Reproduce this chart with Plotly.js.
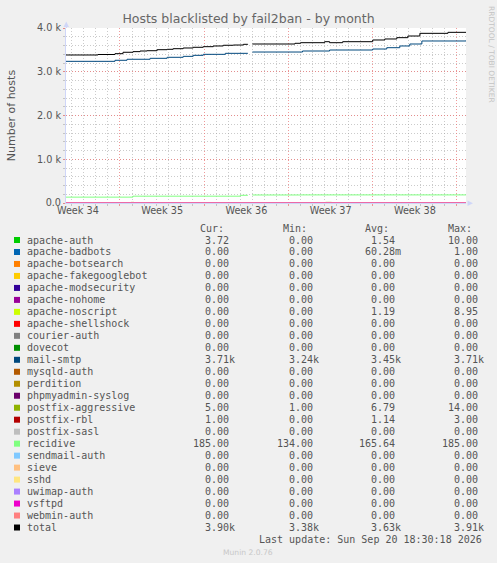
<!DOCTYPE html>
<html><head><meta charset="utf-8">
<script src="https://cdn.plot.ly/plotly-3.0.1.min.js"></script>
<style>html,body{margin:0;padding:0;background:#F0F0F0;}#chart{width:497px;height:563px;}</style>
</head><body><div id="chart"></div>
<script>
// ---------- data ----------
const seriesNames = ['apache-auth','apache-badbots','apache-botsearch','apache-fakegooglebot','apache-modsecurity','apache-nohome','apache-noscript','apache-shellshock','courier-auth','dovecot','mail-smtp','mysqld-auth','perdition','phpmyadmin-syslog','postfix-aggressive','postfix-rbl','postfix-sasl','recidive','sendmail-auth','sieve','sshd','uwimap-auth','vsftpd','webmin-auth','total'];
const curText = ['3.72','0.00','0.00','0.00','0.00','0.00','0.00','0.00','0.00','0.00','3.71k','0.00','0.00','0.00','5.00','1.00','0.00','185.00','0.00','0.00','0.00','0.00','0.00','0.00','3.90k'];
const minText = ['0.00','0.00','0.00','0.00','0.00','0.00','0.00','0.00','0.00','0.00','3.24k','0.00','0.00','0.00','1.00','0.00','0.00','134.00','0.00','0.00','0.00','0.00','0.00','0.00','3.38k'];
const avgText = ['1.54','60.28m','0.00','0.00','0.00','0.00','1.19','0.00','0.00','0.00','3.45k','0.00','0.00','0.00','6.79','1.14','0.00','165.64','0.00','0.00','0.00','0.00','0.00','0.00','3.63k'];
const maxText = ['10.00','1.00','0.00','0.00','0.00','0.00','8.95','0.00','0.00','0.00','3.71k','0.00','0.00','0.00','14.00','3.00','0.00','185.00','0.00','0.00','0.00','0.00','0.00','0.00','3.91k'];

const totalTimes = ['2026-08-18 12:20','2026-08-21 04:00','2026-08-22 14:00','2026-08-23 06:00','2026-08-24 02:00','2026-08-24 16:00','2026-08-25 06:00','2026-08-26 02:00','2026-08-26 22:00','2026-08-27 10:00','2026-08-28 06:00','2026-08-29 02:00','2026-08-29 22:00','2026-08-30 18:00','2026-08-31 14:00','2026-09-01 10:00','2026-09-02 06:00','2026-09-02 15:00','2026-09-02 16:00','2026-09-03 00:00','2026-09-06 13:00','2026-09-07 00:00','2026-09-09 00:00','2026-09-09 10:00','2026-09-10 12:00','2026-09-13 00:00','2026-09-14 00:00','2026-09-15 00:00','2026-09-15 22:00','2026-09-16 22:00','2026-09-19 06:00','2026-09-20 18:00'];
const totalValues = [3383,3394,3413,3445,3460,3474,3481,3504,3513,3527,3543,3559,3573,3589,3605,3611,3627,3630,null,3634,3650,3664,3687,3664,3687,3726,3749,3779,3817,3878,3901,3902];

const mailSmtpTimes = ['2026-08-18 12:20','2026-08-22 14:00','2026-08-23 14:00','2026-08-25 12:00','2026-08-26 22:00','2026-08-28 06:00','2026-08-29 02:00','2026-08-29 22:00','2026-08-31 18:00','2026-09-02 15:00','2026-09-02 16:00','2026-09-03 00:00','2026-09-07 04:00','2026-09-09 10:00','2026-09-13 00:00','2026-09-14 04:00','2026-09-15 06:00','2026-09-16 02:00','2026-09-17 02:00','2026-09-20 18:00'];
const mailSmtpValues = [3238,3262,3285,3307,3330,3352,3375,3398,3421,3421,null,3451,3474,3497,3520,3550,3589,3634,3703,3710];

const recidiveTimes = ['2026-08-18 12:20','2026-08-24 02:00','2026-09-02 00:00','2026-09-02 15:00','2026-09-02 16:00','2026-09-03 00:00','2026-09-07 00:00','2026-09-20 18:00'];
const recidiveValues = [134,156,176,176,null,183,185,185];

const aggressiveTimes = ['2026-08-18 12:20','2026-08-23 22:00','2026-08-24 04:00','2026-08-28 00:00','2026-09-02 15:00','2026-09-02 16:00','2026-09-03 00:00','2026-09-06 00:00','2026-09-07 00:00','2026-09-09 02:00','2026-09-09 14:00','2026-09-14 00:00','2026-09-18 00:00','2026-09-20 18:00'];
const aggressiveValues = [6,14,7,4,4,null,6,1,8,14,9,7,5,5];

const apacheAuthTimes = ['2026-08-18 12:20','2026-08-27 00:00','2026-09-04 00:00','2026-09-04 12:00','2026-09-12 00:00','2026-09-18 00:00','2026-09-20 18:00'];
const apacheAuthValues = [0,2,10,1,0,3.72,3.72];

const badbotsTimes = ['2026-08-18 12:20','2026-09-05 00:00','2026-09-05 02:00','2026-09-20 18:00'];
const badbotsValues = [0,1,0,0];

const noscriptTimes = ['2026-08-18 12:20','2026-08-20 00:00','2026-08-21 00:00','2026-09-10 00:00','2026-09-11 00:00','2026-09-20 18:00'];
const noscriptValues = [0,8.95,0,4,0,0];

const rblTimes = ['2026-08-18 12:20','2026-08-25 00:00','2026-09-01 00:00','2026-09-03 00:00','2026-09-12 00:00','2026-09-17 00:00','2026-09-20 18:00'];
const rblValues = [1,0,3,1,0,1,1];

const flatTimes = ['2026-08-18 12:20','2026-09-20 18:00'];
const flatValues = [0,0];

const weekLabelTimes = ['2026-08-19 12:00','2026-08-26 12:00','2026-09-02 12:00','2026-09-09 12:00','2026-09-16 12:00'];
const weekLabels = ['Week 34','Week 35','Week 36','Week 37','Week 38'];
const yTickValues = [0,1000,2000,3000,4000];
const yTickLabels = ['0.0','1.0 k','2.0 k','3.0 k','4.0 k'];
const timeRange = ['2026-08-18 12:20','2026-09-20 18:00'];
const firstSunday = '2026-08-16';

// ---------- styles ----------
const seriesColors = ['#00CC00','#0066B3','#FF8000','#FFCC00','#330099','#990099','#CCFF00','#FF0000','#808080','#008F00','#00487D','#B35A00','#B38F00','#6B006B','#8FB300','#B30000','#BEBEBE','#80FF80','#80C9FF','#FFC080','#FFE680','#AA80FF','#EE00CC','#FF8080','#000000'];

const seriesData = {
  'apache-auth': [apacheAuthTimes, apacheAuthValues],
  'apache-badbots': [badbotsTimes, badbotsValues],
  'apache-noscript': [noscriptTimes, noscriptValues],
  'mail-smtp': [mailSmtpTimes, mailSmtpValues],
  'postfix-aggressive': [aggressiveTimes, aggressiveValues],
  'postfix-rbl': [rblTimes, rblValues],
  'recidive': [recidiveTimes, recidiveValues],
  'total': [totalTimes, totalValues]
};

const traces = seriesNames.map((n, i) => {
  const d = seriesData[n] || [flatTimes, flatValues];
  return {type:'scatter', mode:'lines', name:n, x:d[0], y:d[1], xaxis:'x', yaxis:'y',
    line:{color:seriesColors[i], width:1, shape:'hv'}, connectgaps:false, showlegend:false, hoverinfo:'skip'};
});
traces.push({type:'scatter', mode:'lines', x:[], y:[], xaxis:'x2', yaxis:'y', showlegend:false, hoverinfo:'skip'});

const PL = 66, PT = 28, PW = 400, PH = 175;
const px = x => (x - PL) / PW;
const py = y => (PT + PH - y) / PH;

const MONO = 'DejaVu Sans Mono';
const SANS = 'DejaVu Sans';
const TXT = '#555555';
const CW = 6.02;

const annotations = [];
const shapes = [];
const headerStarts = [199, 281.7, 364, 446.7];
const headerTexts = ['Cur:','Min:','Avg:','Max:'];
headerTexts.forEach((t, c) => annotations.push({xref:'paper', yref:'paper', x:px(headerStarts[c]), y:py(228.3), xanchor:'left', yanchor:'middle', text:t, showarrow:false, borderpad:0, font:{family:MONO, size:10, color:TXT}}));

const colEdges = [228.3, 311.7, 394.3, 476.7];
const cols = [curText, minText, avgText, maxText];
seriesNames.forEach((n, i) => {
  const yc = 240 + 11.98 * i;
  annotations.push({xref:'paper', yref:'paper', x:px(26), y:py(yc), xanchor:'left', yanchor:'middle', text:n, showarrow:false, borderpad:0, font:{family:MONO, size:10, color:TXT}});
  cols.forEach((arr, c) => {
    const t = arr[i];
    const num = t.replace(/[km]$/, '');
    annotations.push({xref:'paper', yref:'paper', x:px(colEdges[c] - num.length * CW), y:py(yc), xanchor:'left', yanchor:'middle', text:t, showarrow:false, borderpad:0, font:{family:MONO, size:10, color:TXT}});
  });
  shapes.push({type:'rect', xref:'paper', yref:'paper', x0:px(14), x1:px(20), y0:py(yc - 3), y1:py(yc + 3), fillcolor:seriesColors[i], line:{width:0}});
});

annotations.push({xref:'paper', yref:'paper', x:px(482.7), y:py(539.7), xanchor:'right', yanchor:'middle', text:'Last update: Sun Sep 20 18:30:18 2026', showarrow:false, borderpad:0, font:{family:MONO, size:10, color:TXT}});
annotations.push({xref:'paper', yref:'paper', x:px(248), y:py(552), xanchor:'center', yanchor:'middle', text:'Munin 2.0.76', showarrow:false, borderpad:0, font:{family:SANS, size:7.6, color:'#C8C8C8'}});
annotations.push({xref:'paper', yref:'paper', x:px(492), y:py(54), xanchor:'center', yanchor:'middle', text:'RRDTOOL / TOBI OETIKER', textangle:90, showarrow:false, borderpad:0, font:{family:SANS, size:7.5, color:'#C4C4C4'}});

// axis arrows
const AX = '#CFD6F8';
shapes.push({type:'path', xref:'paper', yref:'paper', path:`M ${px(63.5)} ${py(27)} L ${px(69)} ${py(27)} L ${px(66.25)} ${py(21.5)} Z`, fillcolor:AX, line:{width:0}});
shapes.push({type:'line', xref:'paper', yref:'paper', x0:px(66.5), x1:px(66.5), y0:py(28), y1:py(23), line:{color:AX, width:1}});
shapes.push({type:'path', xref:'paper', yref:'paper', path:`M ${px(467.5)} ${py(200.5)} L ${px(467.5)} ${py(206)} L ${px(473)} ${py(203.25)} Z`, fillcolor:AX, line:{width:0}});

const MGRID = 'rgba(235,120,120,0.75)';
const GRID = 'rgba(160,160,160,0.55)';

const layout = {
  width:497, height:563,
  margin:{l:PL, r:497 - PL - PW, t:PT, b:563 - PT - PH, pad:0},
  paper_bgcolor:'#F0F0F0', plot_bgcolor:'#FFFFFF',
  showlegend:false,
  title:{text:'Hosts blacklisted by fail2ban - by month', font:{family:SANS, size:12.5, color:'#666666'}, x:0.5, xanchor:'center', xref:'container', y:1 - 18.5/563, yanchor:'middle', yref:'container'},
  xaxis:{type:'date', range:timeRange, tickmode:'linear', tick0:firstSunday, dtick:7*86400000, showticklabels:false,
    showgrid:true, gridcolor:MGRID, griddash:'1px,2px', gridwidth:1, zeroline:false,
    showline:true, linecolor:AX, linewidth:1, ticks:'outside', ticklen:2, tickcolor:MGRID,
    minor:{tickmode:'linear', tick0:firstSunday, dtick:86400000, showgrid:true, gridcolor:GRID, griddash:'1px,2px', gridwidth:1, ticks:'outside', ticklen:2, tickcolor:GRID}},
  xaxis2:{type:'date', range:timeRange, overlaying:'x', anchor:'y', side:'bottom', tickmode:'array', tickvals:weekLabelTimes, ticktext:weekLabels,
    showgrid:false, zeroline:false, showline:false, ticks:'', tickfont:{family:SANS, size:9.7, color:TXT}},
  yaxis:{range:[0,4000], tickmode:'array', tickvals:yTickValues, ticktext:yTickLabels,
    showgrid:true, gridcolor:MGRID, griddash:'1px,2px', gridwidth:1, zeroline:false,
    showline:true, linecolor:AX, linewidth:1, ticks:'outside', ticklen:2, tickcolor:MGRID,
    tickfont:{family:SANS, size:9.7, color:TXT},
    title:{text:'Number of hosts', font:{family:SANS, size:11, color:TXT}, standoff:19},
    minor:{tickmode:'linear', tick0:0, dtick:200, showgrid:true, gridcolor:GRID, griddash:'1px,2px', gridwidth:1, ticks:'outside', ticklen:2, tickcolor:GRID}},
  annotations:annotations,
  shapes:shapes
};

Plotly.newPlot('chart', traces, layout, {displayModeBar:false, staticPlot:true});
</script>
</body></html>
